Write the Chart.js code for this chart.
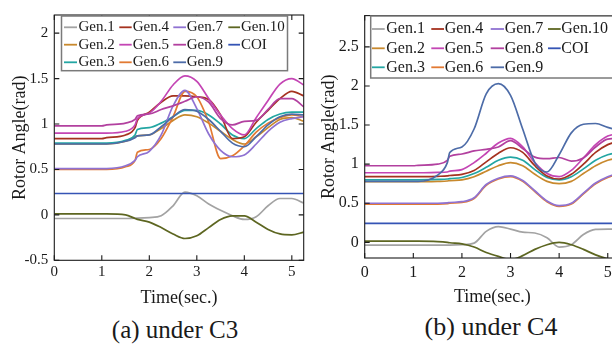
<!DOCTYPE html>
<html><head><meta charset="utf-8">
<script src="https://cdn.jsdelivr.net/npm/chart.js@4.4.0/dist/chart.umd.min.js"></script>
<style>
html,body{margin:0;padding:0;background:#fff;width:612px;height:344px;overflow:hidden;position:relative}
.wrap{position:absolute;top:0}
canvas{display:block}
.cap{position:absolute;font-family:"Liberation Serif","Times New Roman",serif;color:#1a1a1a;white-space:nowrap;line-height:1;transform:translate(-50%,-50%)}
</style></head><body>
<div class="wrap" style="left:0"><canvas id="c1" width="306" height="310"></canvas></div>
<div class="wrap" style="left:306px"><canvas id="c2" width="322" height="310"></canvas></div>
<div class="cap" style="left:175px;top:329px;font-size:25px">(a) under C3</div>
<div class="cap" style="left:491px;top:326.5px;font-size:26px">(b) under C4</div>
<script>
// ---------- data ----------
const TIME = [0,0.5,1,1.1,1.5,1.7,1.75,2,2.25,2.5,2.75,3,3.25,3.5,3.75,4,4.25,4.5,4.75,5,5.25];
const NAMES = ['Gen.1','Gen.2','Gen.3','Gen.4','Gen.5','Gen.6','Gen.7','Gen.8','Gen.9','Gen.10','COI'];
const COLORS = ['#a3a3a3','#c8892d','#23a6a3','#a5321f','#c445b4','#e27a33','#8f72d2','#b2409f','#4d6ca8','#5d6621','#3554b5'];
const LEGEND_ROWS = [['Gen.1','Gen.4','Gen.7','Gen.10'],['Gen.2','Gen.5','Gen.8','COI'],['Gen.3','Gen.6','Gen.9']];
const X_TICKS = [0,1,2,3,4,5];
const Y_TICKS_A = [-0.5,0,0.5,1,1.5,2];
const Y_TICKS_B = [0,0.5,1,1.5,2,2.5];

// (a) under C3
const A_GEN1  = [-0.04,-0.04,-0.04,-0.04,-0.04,-0.035,-0.035,-0.03,-0.01,0.10,0.25,0.21,0.12,0.05,-0.01,-0.05,-0.02,0.10,0.18,0.18,0.13];
const A_GEN2  = [0.78,0.78,0.78,0.78,0.81,0.86,0.87,0.88,0.95,1.04,1.10,1.08,1.01,0.92,0.83,0.78,0.86,0.96,1.05,1.07,1.03];
const A_GEN3  = [0.79,0.79,0.79,0.79,0.82,0.88,0.94,0.96,1.01,1.08,1.15,1.15,1.10,1.00,0.88,0.84,0.95,1.05,1.11,1.13,1.13];
const A_GEN4  = [0.84,0.84,0.84,0.85,0.88,0.96,1.04,1.13,1.24,1.31,1.31,1.30,1.27,1.10,0.84,0.86,1.02,1.15,1.28,1.36,1.31];
const A_GEN5  = [0.90,0.90,0.90,0.90,0.92,0.99,1.06,1.12,1.25,1.43,1.53,1.47,1.28,1.10,0.95,0.88,1.07,1.26,1.44,1.50,1.43];
const A_GEN6  = [0.50,0.50,0.50,0.50,0.53,0.60,0.69,0.72,0.84,1.08,1.36,1.30,1.02,0.62,0.65,0.76,0.91,1.01,1.07,1.10,1.08];
const A_GEN7  = [0.51,0.51,0.51,0.51,0.54,0.60,0.64,0.70,0.88,1.20,1.37,1.17,0.89,0.71,0.64,0.66,0.78,0.92,1.02,1.06,1.08];
const A_GEN8  = [0.98,0.98,0.98,0.99,1.01,1.05,1.09,1.11,1.16,1.20,1.25,1.30,1.24,1.06,0.99,1.03,1.04,1.16,1.28,1.28,1.19];
const A_GEN9  = [0.78,0.78,0.78,0.78,0.81,0.85,0.87,0.88,0.97,1.08,1.16,1.14,1.05,0.92,0.79,0.75,0.86,0.99,1.08,1.11,1.10];
const A_GEN10 = [0.01,0.01,0.01,0.01,0.0,-0.04,-0.05,-0.08,-0.14,-0.21,-0.26,-0.23,-0.14,-0.05,-0.01,-0.01,-0.08,-0.16,-0.21,-0.22,-0.19];
const A_COI   = [0.235,0.235,0.235,0.235,0.235,0.235,0.235,0.235,0.235,0.235,0.235,0.235,0.235,0.235,0.235,0.235,0.235,0.235,0.235,0.235,0.235];

// (b) under C4
const B_GEN1  = [-0.035,-0.035,-0.035,-0.035,-0.035,-0.035,-0.035,-0.03,-0.01,0.14,0.20,0.17,0.13,0.12,0.06,-0.06,-0.03,0.10,0.165,0.17,0.17];
const B_GEN2  = [0.775,0.775,0.775,0.775,0.78,0.785,0.79,0.80,0.84,0.91,0.98,1.02,0.98,0.87,0.78,0.75,0.78,0.88,0.98,1.05,1.08];
const B_GEN3  = [0.80,0.80,0.80,0.80,0.805,0.81,0.815,0.83,0.88,0.96,1.05,1.09,1.05,0.93,0.83,0.80,0.84,0.94,1.05,1.12,1.15];
const B_GEN4  = [0.84,0.84,0.84,0.84,0.845,0.85,0.855,0.87,0.92,1.03,1.14,1.21,1.15,0.98,0.85,0.81,0.87,1.00,1.15,1.25,1.30];
const B_GEN5  = [0.89,0.89,0.89,0.89,0.895,0.90,0.91,0.93,1.02,1.14,1.27,1.33,1.22,1.02,0.88,0.84,0.92,1.08,1.25,1.36,1.39];
const B_GEN6  = [0.49,0.49,0.49,0.49,0.49,0.495,0.50,0.51,0.56,0.73,0.81,0.84,0.78,0.65,0.52,0.46,0.49,0.62,0.75,0.83,0.88];
const B_GEN7  = [0.50,0.50,0.50,0.50,0.50,0.505,0.51,0.52,0.57,0.74,0.82,0.85,0.79,0.66,0.53,0.47,0.50,0.63,0.76,0.84,0.89];
const B_GEN8  = [0.98,0.98,0.98,0.985,1.00,1.05,1.10,1.13,1.17,1.19,1.22,1.30,1.20,1.09,1.07,1.085,1.04,1.08,1.22,1.32,1.33];
const B_GEN9  = [0.78,0.78,0.78,0.78,0.86,1.02,1.15,1.22,1.45,1.90,2.03,1.88,1.45,1.02,0.90,1.12,1.40,1.51,1.52,1.47,1.43];
const B_GEN10 = [0.015,0.015,0.015,0.015,0.01,0.0,-0.005,-0.02,-0.06,-0.13,-0.18,-0.22,-0.17,-0.09,-0.03,0.0,-0.03,-0.09,-0.16,-0.21,-0.23];
const B_COI   = [0.242,0.242,0.242,0.242,0.242,0.242,0.242,0.242,0.242,0.242,0.242,0.242,0.242,0.242,0.242,0.242,0.242,0.242,0.242,0.242,0.242];

const SERIES_A = [A_GEN1,A_GEN2,A_GEN3,A_GEN4,A_GEN5,A_GEN6,A_GEN7,A_GEN8,A_GEN9,A_GEN10,A_COI];
const SERIES_B = [B_GEN1,B_GEN2,B_GEN3,B_GEN4,B_GEN5,B_GEN6,B_GEN7,B_GEN8,B_GEN9,B_GEN10,B_COI];

// ---------- drawing ----------
const FONT = '"Liberation Serif","Times New Roman",serif';

const framePlugin = {
  id: 'frame',
  afterDatasetsDraw(chart, args, o) {
    const {ctx, chartArea: a, scales: {x, y}} = chart;
    ctx.save();
    ctx.strokeStyle = '#1a1a1a';
    ctx.lineWidth = 1.1;
    const L = 5;
    ctx.beginPath();
    x.ticks.forEach(t => {
      const p = x.getPixelForValue(t.value);
      ctx.moveTo(p, a.bottom); ctx.lineTo(p, a.bottom - L);
      ctx.moveTo(p, a.top); ctx.lineTo(p, a.top + L);
    });
    y.ticks.forEach(t => {
      const p = y.getPixelForValue(t.value);
      ctx.moveTo(a.left, p); ctx.lineTo(a.left + L, p);
      ctx.moveTo(a.right, p); ctx.lineTo(a.right - L, p);
    });
    ctx.stroke();
    ctx.strokeRect(a.left, a.top, a.right - a.left, a.bottom - a.top);

    // legend
    const lg = o.legend;
    ctx.fillStyle = '#fff';
    ctx.fillRect(lg.box[0], lg.box[1], lg.box[2], lg.box[3]);
    ctx.strokeStyle = '#7a7a7a';
    ctx.lineWidth = 1.5;
    ctx.strokeRect(lg.box[0], lg.box[1], lg.box[2], lg.box[3]);
    ctx.font = lg.font + 'px ' + FONT;
    ctx.textBaseline = 'middle';
    ctx.textAlign = 'left';
    LEGEND_ROWS.forEach((row, r) => {
      row.forEach((name, c) => {
        const ds = chart.data.datasets.find(d => d.label === name);
        const col = lg.cols[c], yy = lg.rows[r];
        ctx.strokeStyle = ds.borderColor;
        ctx.lineWidth = 1.8;
        ctx.beginPath(); ctx.moveTo(col[0], yy); ctx.lineTo(col[1], yy); ctx.stroke();
        ctx.fillStyle = '#1a1a1a';
        ctx.fillText(name, col[2], yy);
      });
    });
    ctx.restore();
  }
};

function build(id, series, g) {
  const datasets = series.map((vals, i) => ({
    label: NAMES[i],
    data: TIME.map((t, k) => ({x: t, y: vals[k]})),
    borderColor: COLORS[i],
    borderWidth: 1.7,
    pointRadius: 0,
    fill: false,
    cubicInterpolationMode: 'monotone',
    order: NAMES.length - i
  }));
  return new Chart(document.getElementById(id), {
    type: 'line',
    data: {datasets},
    plugins: [framePlugin],
    options: {
      responsive: false,
      animation: false,
      events: [],
      layout: {padding: {left: 0, top: g.area.t, right: g.W - g.area.r, bottom: 0}},
      plugins: {legend: {display: false}, tooltip: {enabled: false}, frame: {legend: g.legend}},
      scales: {
        x: {
          type: 'linear', min: 0, max: 5.25,
          grid: {display: false, drawTicks: false}, border: {display: false},
          afterBuildTicks: s => { s.ticks = X_TICKS.map(v => ({value: v})); },
          afterFit: s => { s.height = g.H - g.area.b; },
          ticks: {font: {family: FONT, size: g.tickFont, lineHeight: 1.2}, color: '#1a1a1a', padding: g.xTickPad, maxRotation: 0, autoSkip: false, callback: v => String(v)},
          title: {display: true, text: 'Time(sec.)', font: {family: FONT, size: 18, lineHeight: 1.2}, color: '#1a1a1a', padding: {top: 0, bottom: g.xTitlePad}}
        },
        y: {
          type: 'linear', min: g.yMin, max: g.yMax,
          grid: {display: false, drawTicks: false}, border: {display: false},
          afterBuildTicks: s => { s.ticks = g.yTicks.map(v => ({value: v})); },
          afterFit: s => { s.width = g.area.l; },
          ticks: {font: {family: FONT, size: g.tickFont, lineHeight: 1.2}, color: '#1a1a1a', padding: g.yTickPad, autoSkip: false, callback: v => String(v)},
          title: {display: true, text: 'Rotor Angle(rad)', font: {family: FONT, size: 18, lineHeight: 1.2}, color: '#1a1a1a', padding: {top: g.yTitlePad, bottom: 0}}
        }
      }
    }
  });
}

build('c1', SERIES_A, {
  W: 306, H: 310, area: {l: 54.3, t: 14, r: 303.7, b: 260.3},
  yMin: -0.5, yMax: 2.2, yTicks: Y_TICKS_A, tickFont: 15,
  xTickPad: 2.7, yTickPad: 6, xTitlePad: 0.5, yTitlePad: 9.4,
  legend: {box: [61.5, 16, 226, 54.7], font: 15, rows: [27.3, 44.7, 62.3],
    cols: [[64, 77, 78.5], [119.3, 131.7, 132.7], [173.3, 186, 186.7], [228.3, 240, 241]]}
});

build('c2', SERIES_B, {
  W: 322, H: 310, area: {l: 58.7, t: 14.7, r: 313.9, b: 258},
  yMin: -0.2, yMax: 2.9, yTicks: Y_TICKS_B, tickFont: 16,
  xTickPad: 5.4, yTickPad: 6, xTitlePad: 1.5, yTitlePad: 12.4,
  legend: {box: [64.7, 16, 300, 62], font: 16, rows: [29, 48.3, 67.3],
    cols: [[66, 78.7, 80.3], [125.3, 138, 138.7], [184.7, 198, 198.7], [242, 254.7, 255.3]]}
});
</script>
</body></html>
